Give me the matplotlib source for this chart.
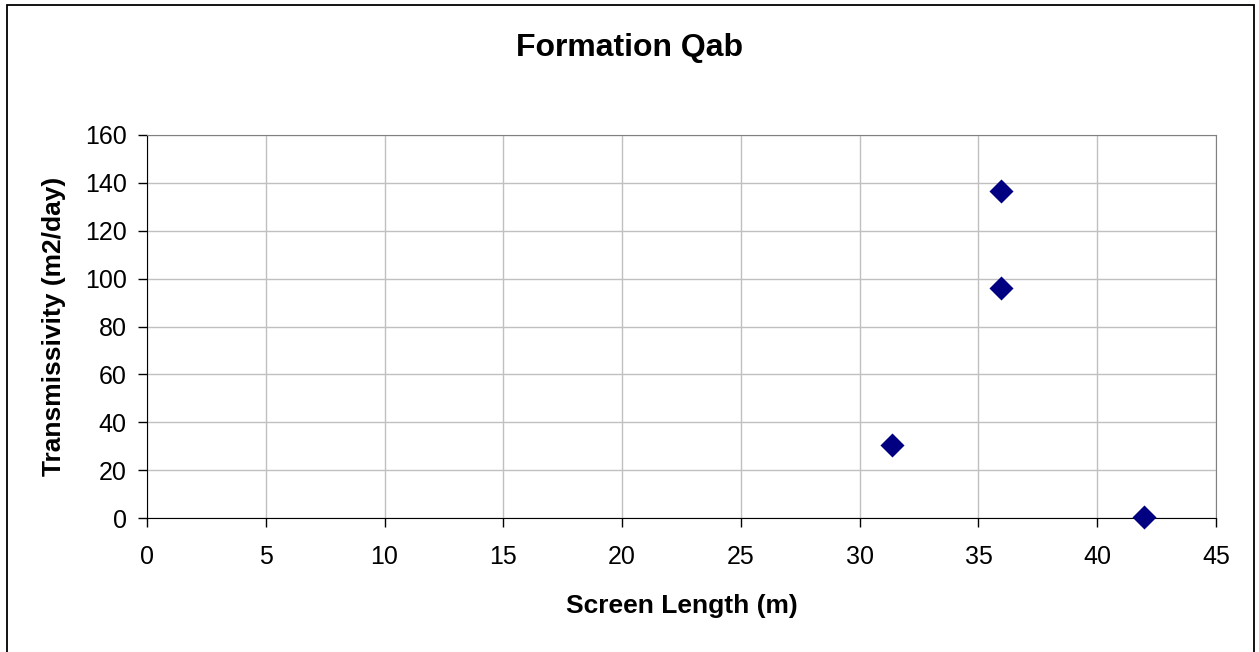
import matplotlib

matplotlib.use("Agg")
import matplotlib.pyplot as plt
from matplotlib.patches import Rectangle

screen_length = [31.35, 35.95, 35.95, 41.95]
transmissivity = [30.3, 136.4, 96.0, 0.6]
x_ticks = list(range(0, 50, 5))
y_ticks = list(range(0, 180, 20))

plt.rcParams["font.family"] = ["Liberation Sans", "DejaVu Sans"]

fig = plt.figure(figsize=(12.59, 6.52), dpi=100)
# outer chart frame (bottom edge falls off the image, as in the original)
fig.patches.append(Rectangle((7 / 1259, -0.01), 1247 / 1259, 1.01 - 5 / 652,
                             transform=fig.transFigure, fill=False,
                             edgecolor="black", linewidth=1.3))
ax = fig.add_axes([147 / 1259, 1 - 518 / 652, 1069 / 1259, 383 / 652])

ax.scatter(screen_length, transmissivity, marker="D", s=150, color="#000080",
           linewidths=0, zorder=3, clip_on=False)

ax.set_xlim(0, 45)
ax.set_ylim(0, 160)
ax.set_xticks(x_ticks)
ax.set_yticks(y_ticks)
ax.grid(True, color="#c0c0c0", linewidth=1)
ax.set_axisbelow(True)
ax.tick_params(direction="out", length=6.5, width=1, labelsize=18, colors="black")
ax.tick_params(axis="x", pad=13)
ax.tick_params(axis="y", pad=8)

for side in ("top", "right"):
    ax.spines[side].set_color("#808080")
for side in ("left", "bottom"):
    ax.spines[side].set_color("black")

ax.set_xlabel("Screen Length (m)", fontsize=19, fontweight="bold")
ax.xaxis.set_label_coords(0.5, -0.198)
ax.set_ylabel("Transmissivity (m2/day)", fontsize=19, fontweight="bold")
ax.yaxis.set_label_coords(-0.076, 0.5)
fig.text(0.5, 1 - 48 / 652, "Formation Qab", ha="center", va="center",
         fontsize=23, fontweight="bold")

fig.savefig("out.png", dpi=100)
